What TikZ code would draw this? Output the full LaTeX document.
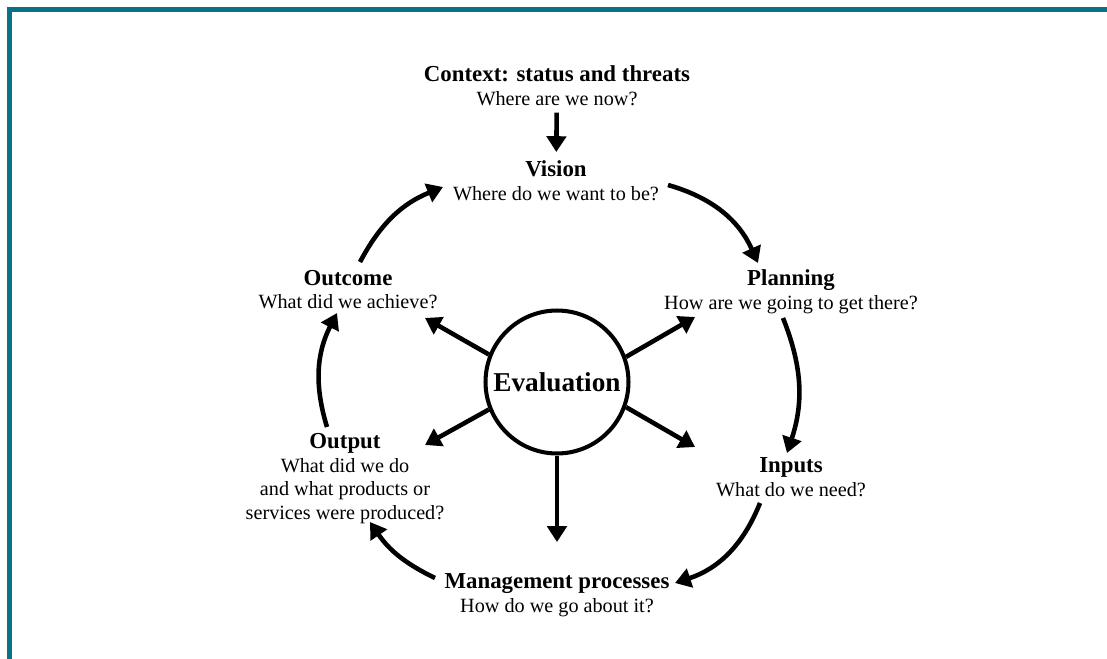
\documentclass[tikz,border=0pt]{standalone}
\usepackage{fontspec}
\setmainfont{Liberation Serif}
\usetikzlibrary{arrows.meta, positioning}
\definecolor{frameteal}{RGB}{8,115,135}
\newcommand{\stagetitle}[1]{{\fontsize{13}{13}\selectfont\bfseries #1}}

\begin{document}
\begin{tikzpicture}[x=0.02cm, y=-0.02cm,
			stage/.style = {align=center, inner sep=0pt,
				font=\fontsize{11.5}{13.4}\selectfont},
			flow/.style = {line width=2.6pt,
				-{Triangle[length=9pt,width=11pt]}}]
			\useasboundingbox (0,0) rectangle (1107,659);
			\draw [frameteal, line width=0.106cm] (9.7,659) -- (9.7,9.7) -- (1107,9.7);

			\node (eval) [circle, draw, line width=2.3pt, minimum size=2.86cm,
			font=\fontsize{15.5}{18}\selectfont\bfseries] at (557,382) {Evaluation};
			\node (ctx) [stage] at (557,85.5) {\stagetitle{Context: status and threats}\\ Where are we now?};
			\node (vis) [stage] at (556,181) {\stagetitle{Vision}\\ Where do we want to be?};
			\node (plan) [stage] at (791,292) {\stagetitle{Planning}\\ How are we going to get there?};
			\node (inp) [stage] at (791,477) {\stagetitle{Inputs}\\ What do we need?};
			\node (mgmt) [stage] at (557,595) {\stagetitle{Management processes}\\ How do we go about it?};
			\node (outp) [stage] at (345,478.5) {\stagetitle{Output}\\ What did we do\\ and what products or\\ services were produced?};
			\node (outc) [stage] at (348,289.6) {\stagetitle{Outcome}\\ What did we achieve?};

			% ends of the cycle arrows
			\coordinate (vp1) at (668,185);  \coordinate (vp2) at (758,263);
			\coordinate (pi1) at (783,318);  \coordinate (pi2) at (787,453);
			\coordinate (im1) at (760,503);  \coordinate (im2) at (675,583);
			\coordinate (mo1) at (435,578);  \coordinate (mo2) at (370,522);
			\coordinate (oo1) at (327,427);  \coordinate (oo2) at (337,313);
			\coordinate (ov1) at (360,262);  \coordinate (ov2) at (443,187);
			% tips of the evaluation arrows
			\coordinate (eul) at (425,318);  \coordinate (eur) at (695,317);
			\coordinate (ell) at (425,445);  \coordinate (elr) at (695,447);
			\coordinate (edn) at (557,542);

			\draw [flow, shorten <=4pt, shorten >=5pt] (ctx) -- (vis);
			\path [flow]
			(vp1) edge [bend left=25] (vp2)
			(pi1) edge [bend left=20] (pi2)
			(im1) edge [bend left=25] (im2)
			(mo1) edge [bend left=15] (mo2)
			(oo1) edge [bend left=22] (oo2)
			(ov1) edge [bend left=20] (ov2)
			(eval.158) edge (eul)
			(eval.20) edge (eur)
			(eval.202) edge (ell)
			(eval.340) edge (elr)
			(eval.south) edge (edn);
		\end{tikzpicture}
\end{document}
